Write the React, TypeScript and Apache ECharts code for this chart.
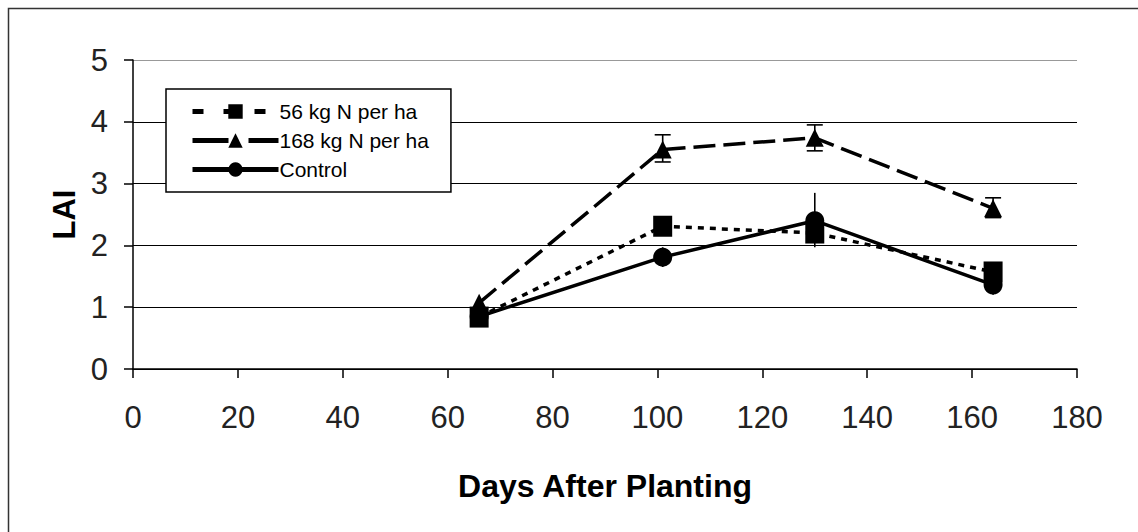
import React, { useEffect, useRef } from "react";
import * as echarts from "echarts";

const days = [66, 101, 130, 164];
const n56 = [0.84, 2.31, 2.2, 1.57];
const n168 = [1.07, 3.55, 3.74, 2.6];
const control = [0.85, 1.81, 2.4, 1.36];
const n168Err = [
  [101, 3.35, 3.79],
  [130, 3.53, 3.95],
  [164, 2.45, 2.77],
];
const controlErr = [
  [101, 1.65, 1.97],
  [130, 1.97, 2.85],
  [164, 1.2, 1.5],
];
const seriesNames = ["56 kg N per ha", "168 kg N per ha", "Control"];

const FONT = "'Liberation Sans', Arial, sans-serif";

function errRender(cap: number) {
  return (params: any, api: any) => {
    const x = api.value(0);
    const lo = api.coord([x, api.value(1)]);
    const hi = api.coord([x, api.value(2)]);
    const st = { stroke: "#000", lineWidth: 1.6 };
    const children: any[] = [
      { type: "line", shape: { x1: lo[0], y1: lo[1], x2: hi[0], y2: hi[1] }, style: st },
    ];
    if (cap > 0) {
      children.push({ type: "line", shape: { x1: lo[0] - cap, y1: lo[1], x2: lo[0] + cap, y2: lo[1] }, style: st });
      children.push({ type: "line", shape: { x1: hi[0] - cap, y1: hi[1], x2: hi[0] + cap, y2: hi[1] }, style: st });
    }
    return { type: "group", children };
  };
}

export default function App() {
  const ref = useRef<HTMLDivElement>(null);
  useEffect(() => {
    document.body.style.margin = "0";
    document.body.style.overflow = "hidden";
    const chart = echarts.init(ref.current!, null, { renderer: "svg" });
    const pair = (vals: number[]) => days.map((d, i) => [d, vals[i]]);
    chart.setOption({
      animation: false,
      backgroundColor: "#fff",
      textStyle: { fontFamily: FONT },
      graphic: [
        {
          type: "rect",
          shape: { x: 8.5, y: 8.5, width: 1300, height: 700 },
          style: { fill: "none", stroke: "#333", lineWidth: 1.5 },
          silent: true,
          z: -10,
        },
      ],
      grid: { left: 133, right: 61, top: 60, bottom: 163 },
      legend: {
        orient: "vertical",
        left: 166,
        top: 89,
        data: [
          { name: seriesNames[0], lineStyle: { width: 5, type: [11, 20] } },
          { name: seriesNames[1], lineStyle: { width: 5, type: [36, 20] } },
          { name: seriesNames[2], lineStyle: { width: 5, type: "solid" } },
        ],
        itemWidth: 86,
        itemHeight: 18,
        itemGap: 8,
        padding: [12, 22, 12, 24],
        borderColor: "#000",
        borderWidth: 1.5,
        backgroundColor: "#fff",
        textStyle: { fontFamily: FONT, fontSize: 21, color: "#000", lineHeight: 21, padding: [0, 0, 0, -4] },
      },
      xAxis: {
        type: "value",
        min: 0,
        max: 180,
        interval: 20,
        name: "Days After Planting",
        nameLocation: "middle",
        nameGap: 101,
        nameTextStyle: { fontFamily: FONT, fontSize: 32, fontWeight: "bold", color: "#000" },
        axisLine: { show: true, lineStyle: { color: "#000", width: 1.5 } },
        axisTick: { show: true, length: 9, lineStyle: { color: "#000", width: 1.5 } },
        axisLabel: { fontFamily: FONT, fontSize: 31, color: "#222", margin: 33 },
        splitLine: { show: false },
      },
      yAxis: {
        type: "value",
        min: 0,
        max: 5,
        interval: 1,
        name: "LAI",
        nameLocation: "middle",
        nameGap: 51,
        nameTextStyle: { fontFamily: FONT, fontSize: 31, fontWeight: "bold", color: "#000" },
        axisLine: { show: true, lineStyle: { color: "#000", width: 1.5 } },
        axisTick: { show: true, length: 9, lineStyle: { color: "#000", width: 1.5 } },
        axisLabel: { fontFamily: FONT, fontSize: 31, color: "#222", margin: 25 },
        splitLine: {
          show: true,
          lineStyle: { color: ["#000", "#000", "#000", "#000", "#000", "#999"], width: 1.2 },
        },
      },
      series: [
        {
          type: "custom",
          name: "err168",
          renderItem: errRender(8),
          data: n168Err,
          z: 1,
          silent: true,
        },
        {
          type: "custom",
          name: "errControl",
          renderItem: errRender(0),
          data: controlErr,
          z: 1,
          silent: true,
        },
        {
          type: "line",
          name: seriesNames[0],
          data: pair(n56),
          symbol: "rect",
          symbolSize: [19, 21],
          lineStyle: { color: "#000", width: 3.5, type: [6, 6] },
          itemStyle: { color: "#000" },
          z: 3,
        },
        {
          type: "line",
          name: seriesNames[1],
          data: pair(n168),
          symbol: "triangle",
          symbolSize: [18, 18],
          lineStyle: { color: "#000", width: 3.5, type: [22, 8] },
          itemStyle: { color: "#000" },
          z: 3,
        },
        {
          type: "line",
          name: seriesNames[2],
          data: pair(control),
          symbol: "circle",
          symbolSize: 19,
          lineStyle: { color: "#000", width: 3.5, type: "solid" },
          itemStyle: { color: "#000" },
          z: 3,
        },
      ],
    });
    return () => chart.dispose();
  }, []);
  return <div ref={ref} style={{ width: 1138, height: 532 }} />;
}
